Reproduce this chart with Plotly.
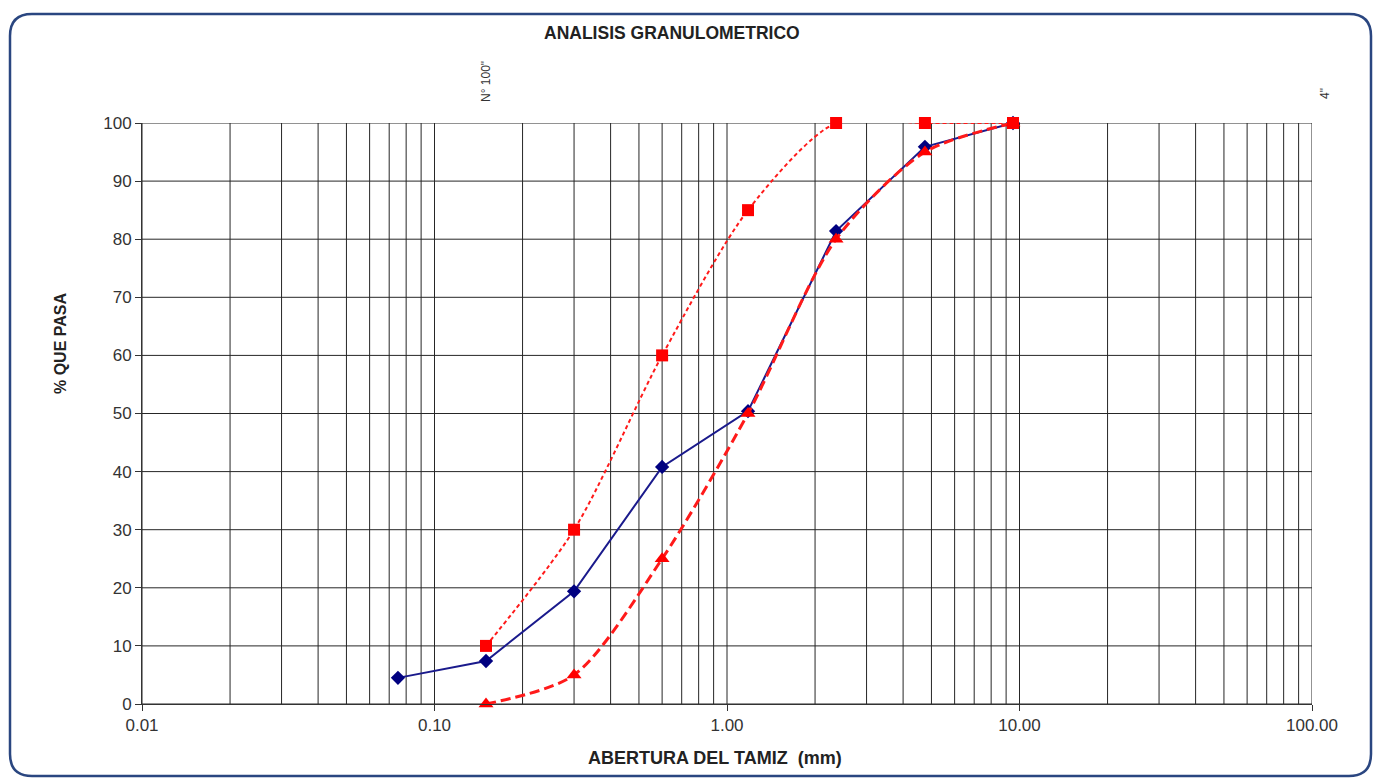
import math
import plotly.graph_objects as go

# Sieve openings (mm) and percent passing
abertura = [0.075, 0.15, 0.30, 0.60, 1.18, 2.36, 4.75, 9.50]
pasa_muestra = [4.5, 7.4, 19.4, 40.8, 50.4, 81.4, 95.9, 100.0]

abertura_lim = [0.15, 0.30, 0.60, 1.18, 2.36, 4.75, 9.50]
limite_superior = [10, 30, 60, 85, 100, 100, 100]
limite_inferior = [0, 5, 25, 50, 80, 95, 100]

x_ticks = [0.01, 0.1, 1, 10, 100]
x_tick_text = ["0.01", "0.10", "1.00", "10.00", "100.00"]
y_ticks = [0, 10, 20, 30, 40, 50, 60, 70, 80, 90, 100]

W, H = 1373, 779
ML, MR, MT, MB = 142, 61, 123, 75
PW, PH = W - ML - MR, H - MT - MB

FONT = "Liberation Sans, Arial, sans-serif"

fig = go.Figure()

# vertical log grid: every 1..9 within each decade
grid_x = []
for dec in [0.01, 0.1, 1, 10]:
    for k in range(1, 10):
        grid_x.append(dec * k)
grid_x.append(100)
for gx in grid_x:
    fig.add_shape(type="line", xref="x", yref="y", x0=gx, x1=gx, y0=0, y1=100,
                  line=dict(color="#262626", width=1), layer="below")
for gy in y_ticks:
    fig.add_shape(type="line", xref="x", yref="y", x0=0.01, x1=100, y0=gy, y1=gy,
                  line=dict(color="#262626", width=1), layer="below")

# sample curve
fig.add_trace(go.Scatter(
    x=abertura, y=pasa_muestra, mode="lines+markers", cliponaxis=False,
    line=dict(color="#1a1a8c", width=2),
    marker=dict(symbol="diamond", size=11, color="#000080"),
    showlegend=False))
# lower specification limit
fig.add_trace(go.Scatter(
    x=abertura_lim, y=limite_inferior, mode="lines+markers", cliponaxis=False,
    line=dict(color="#ff1a1a", width=3, dash="10px,5px", shape="spline", smoothing=0.8),
    marker=dict(symbol="triangle-up", size=13, color="#ff0000"),
    showlegend=False))
# upper specification limit
fig.add_trace(go.Scatter(
    x=abertura_lim, y=limite_superior, mode="lines+markers", cliponaxis=False,
    line=dict(color="#ff1a1a", width=2, dash="4px,3px", shape="spline", smoothing=0.8),
    marker=dict(symbol="square", size=12, color="#ff0000"),
    showlegend=False))


def px_x(p):
    return (p - ML) / PW


def px_y(p):
    return (H - MB - p) / PH


# rounded frame around the whole chart
l, r, t, b, rad = 10, 1371, 14, 776, 22
x0, x1 = px_x(l), px_x(r)
y0, y1 = px_y(b), px_y(t)
rx, ry = rad / PW, rad / PH
path = (f"M {x0 + rx},{y1} L {x1 - rx},{y1} Q {x1},{y1} {x1},{y1 - ry} "
        f"L {x1},{y0 + ry} Q {x1},{y0} {x1 - rx},{y0} "
        f"L {x0 + rx},{y0} Q {x0},{y0} {x0},{y0 + ry} "
        f"L {x0},{y1 - ry} Q {x0},{y1} {x0 + rx},{y1} Z")
fig.add_shape(type="path", xref="paper", yref="paper", path=path,
              line=dict(color="#2a4680", width=2.5))

common = dict(showarrow=False, xanchor="center", yanchor="middle")
annotations = [
    dict(text="<b>ANALISIS GRANULOMETRICO</b>", x=px_x(672), y=px_y(33),
         xref="paper", yref="paper",
         font=dict(family=FONT, size=17.5, color="#222"), **common),
    dict(text="<b>ABERTURA DEL TAMIZ  (mm)</b>", x=px_x(715), y=px_y(758),
         xref="paper", yref="paper",
         font=dict(family=FONT, size=18, color="#222"), **common),
    dict(text="<b>% QUE PASA</b>", x=px_x(60), y=px_y(343), textangle=-90,
         xref="paper", yref="paper",
         font=dict(family=FONT, size=16, color="#222"), **common),
    dict(text="N° 100\"", x=math.log10(0.15), y=px_y(82), textangle=-90,
         xref="x", yref="paper",
         font=dict(family=FONT, size=12, color="#333"), **common),
    dict(text="4\"", x=px_x(1325), y=px_y(94), textangle=-90,
         xref="paper", yref="paper",
         font=dict(family=FONT, size=12, color="#333"), **common),
]

fig.update_layout(
    width=W, height=H,
    margin=dict(l=ML, r=MR, t=MT, b=MB),
    paper_bgcolor="white", plot_bgcolor="white",
    annotations=annotations,
    font=dict(family=FONT, size=16, color="#333"),
)
fig.update_xaxes(type="log", range=[-2, 2], tickvals=x_ticks, ticktext=x_tick_text,
                 showgrid=False, zeroline=False, showline=True, linecolor="#333",
                 linewidth=1, ticks="outside", ticklen=6, tickcolor="#333",
                 tickfont=dict(size=17, color="#333"))
fig.update_yaxes(range=[0, 100], tickvals=y_ticks, showgrid=False, zeroline=False,
                 showline=True, linecolor="#333", linewidth=1, ticks="outside",
                 ticklen=6, tickcolor="#333", tickfont=dict(size=17, color="#333"))

fig.write_html("out.html")
